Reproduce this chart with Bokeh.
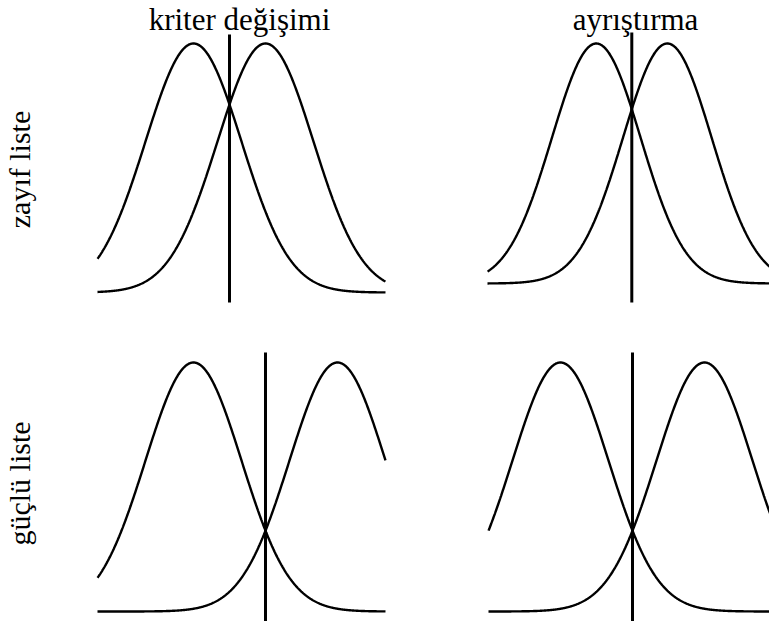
import numpy as np
from bokeh.plotting import figure
from bokeh.models import Range1d
from bokeh.layouts import column, row
from bokeh.core.properties import value
from bokeh.embed import file_html
from bokeh.resources import INLINE

# ---------------- data ----------------
col_titles = ["kriter değişimi", "ayrıştırma"]
row_labels = ["zayıf liste", "güçlü liste"]
# means of the two distributions (SD units from the panel's left edge), [row][col]
noise_means = [[2.0, 2.45], [2.0, 1.5]]
signal_means = [[3.5, 4.05], [5.0, 4.5]]
# decision criterion position, [row][col]
criteria = [[2.75, 3.25], [3.5, 3.0]]
# right end of the drawn curves, [row][col]
curve_end = [[6.0, 6.5], [6.0, 6.0]]

# ---------------- layout (page pixels) ----------------
COL_EDGES = [(0, 440), (440, 769)]
ROW_EDGES = [(0, 321), (321, 621)]
X_ORIGIN = [[97, 487], [97, 488]]
X_SCALE = [[48.0, 44.4], [48.0, 48.0]]
BASELINE = [[292, 283], [611, 611]]
Y_SCALE = [[249.0, 240.0], [249.0, 249.0]]
CRIT_TOP = [[34, 32], [352, 352]]
CRIT_BOT = [[302, 302], [621, 621]]

FONT = value("'Liberation Serif', 'Times New Roman', 'DejaVu Serif', serif")


def make_panel(r, c):
    left, right = COL_EDGES[c]
    top, bottom = ROW_EDGES[r]
    ox, sx = X_ORIGIN[r][c], X_SCALE[r][c]
    by, sy = BASELINE[r][c], Y_SCALE[r][c]

    def dx(px):
        return (px - ox) / sx

    def dy(py):
        return (by - py) / sy

    p = figure(width=right - left, height=bottom - top,
               x_range=Range1d(dx(left), dx(right)),
               y_range=Range1d(dy(bottom), dy(top)),
               x_axis_type=None, y_axis_type=None,
               output_backend="svg", toolbar_location=None,
               min_border=0, min_border_left=0, min_border_right=0,
               min_border_top=0, min_border_bottom=0)
    p.grid.visible = False
    p.outline_line_color = None
    p.background_fill_color = "white"
    p.border_fill_color = "white"

    xs = np.linspace(0.0, curve_end[r][c], 600)
    for mu in (noise_means[r][c], signal_means[r][c]):
        p.line(xs, np.exp(-0.5 * (xs - mu) ** 2), line_color="black",
               line_width=2.4)
    k = criteria[r][c]
    p.segment(x0=[k], y0=[dy(CRIT_BOT[r][c])], x1=[k], y1=[dy(CRIT_TOP[r][c])],
              line_color="black", line_width=3)

    if r == 0:
        cx = 239 if c == 0 else 635
        p.text(x=[dx(cx)], y=[dy(19)], text=[col_titles[c]],
               text_font=FONT, text_font_size="31px", text_color="black",
               text_align="center", text_baseline="alphabetic")
    if c == 0:
        cy = 169 if r == 0 else 483
        p.text(x=[dx(19)], y=[dy(cy)], text=[row_labels[r]], angle=np.pi / 2,
               text_font=FONT, text_font_size="30px", text_color="black",
               text_align="center", text_baseline="alphabetic")
    return p


panels = [[make_panel(r, c) for c in range(2)] for r in range(2)]
layout = column(row(panels[0][0], panels[0][1], spacing=0),
                row(panels[1][0], panels[1][1], spacing=0), spacing=0)

open("out.html", "w").write(file_html(layout, INLINE))
